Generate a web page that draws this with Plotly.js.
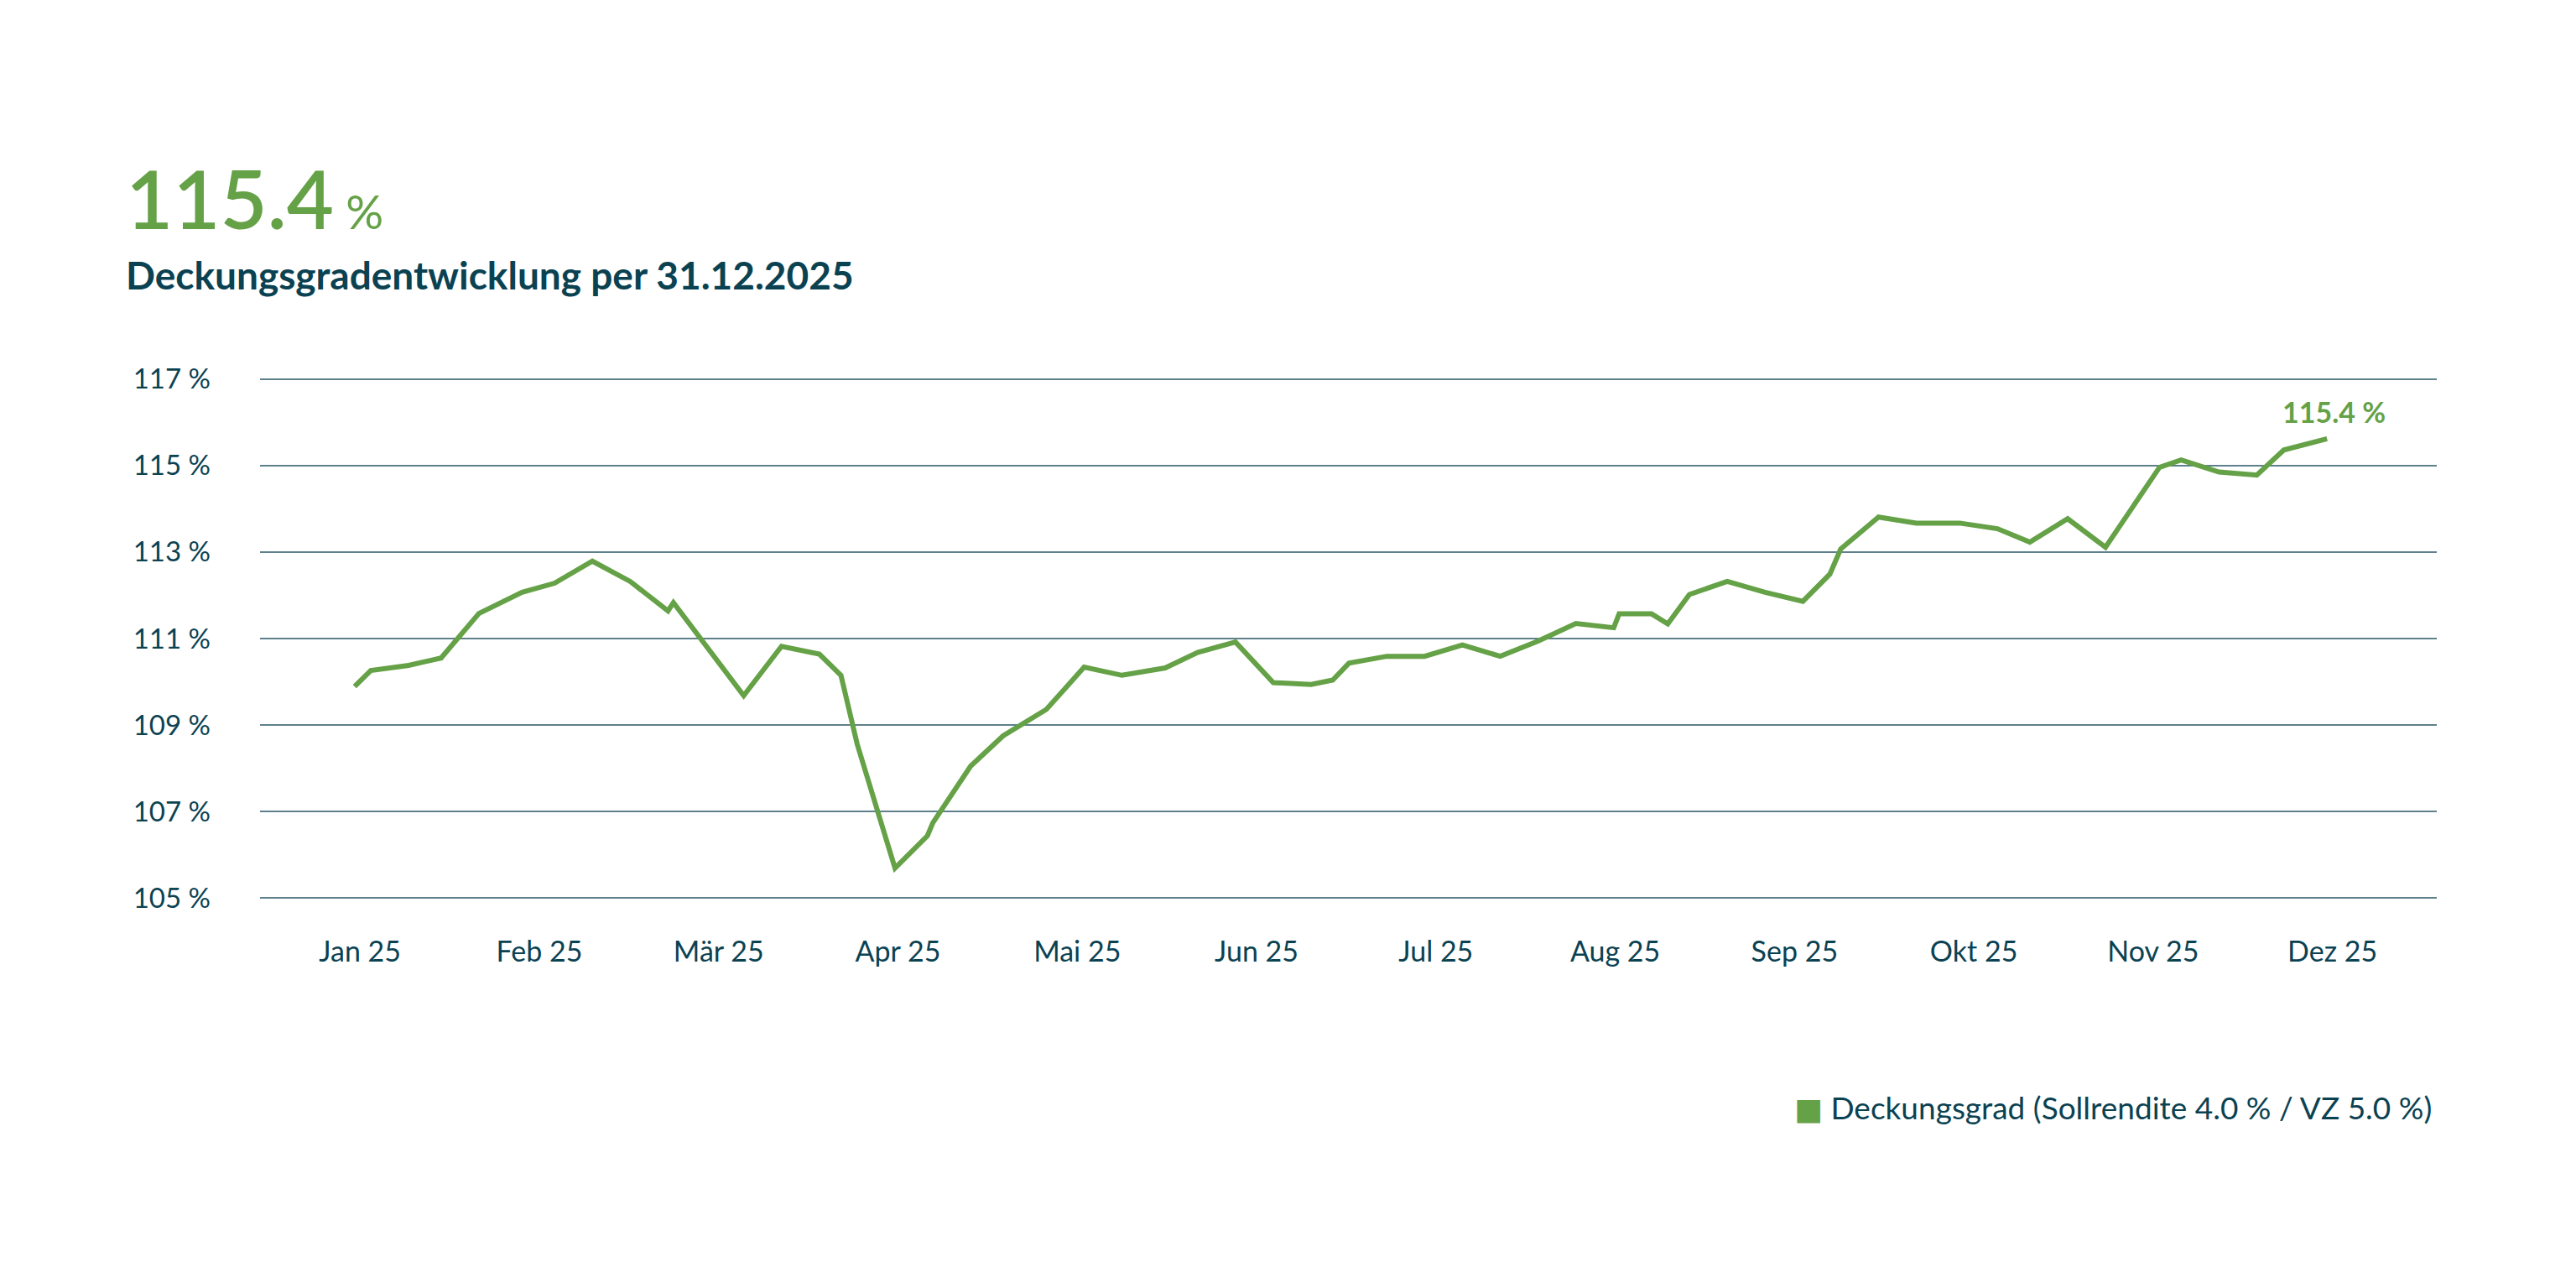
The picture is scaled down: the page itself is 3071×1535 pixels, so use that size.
<!DOCTYPE html>
<html>
<head>
<meta charset="utf-8">
<script src="https://cdn.plot.ly/plotly-3.0.1.min.js"></script>
<style>
  html, body { margin: 0; padding: 0; background: #ffffff; }
  #chart { width: 3071px; height: 1535px; }
</style>
</head>
<body>
<div id="chart"></div>
<script>
const GREEN = "#65a146";
const TEAL = "#0b4252";
const GRID = "#5e808c";
const FONT = "Lato, 'Open Sans', Arial, sans-serif";

// Deckungsgrad per Stichtag
const dates = [
  "2024-12-31", "2025-01-03", "2025-01-10", "2025-01-16", "2025-01-23", "2025-01-31",
  "2025-02-06", "2025-02-13", "2025-02-20", "2025-02-27", "2025-02-28",
  "2025-03-13", "2025-03-20", "2025-03-27", "2025-03-31",
  "2025-04-03", "2025-04-10", "2025-04-16", "2025-04-17", "2025-04-24", "2025-04-30",
  "2025-05-08", "2025-05-15", "2025-05-22", "2025-05-30",
  "2025-06-05", "2025-06-12", "2025-06-19", "2025-06-26", "2025-06-30",
  "2025-07-03", "2025-07-10", "2025-07-17", "2025-07-24", "2025-07-31",
  "2025-08-07", "2025-08-14", "2025-08-21", "2025-08-22", "2025-08-28", "2025-08-31",
  "2025-09-04", "2025-09-11", "2025-09-18", "2025-09-25", "2025-09-30",
  "2025-10-02", "2025-10-09", "2025-10-16", "2025-10-24", "2025-10-31",
  "2025-11-06", "2025-11-13", "2025-11-20", "2025-11-30",
  "2025-12-04", "2025-12-11", "2025-12-18", "2025-12-23", "2025-12-31",
];

const coverage = [
  109.89, 110.26, 110.38, 110.55, 111.58, 112.07,
  112.28, 112.79, 112.32, 111.64, 111.83,
  109.68, 110.82, 110.64, 110.15,
  108.56, 105.69, 106.44, 106.74, 108.05, 108.75,
  109.36, 110.34, 110.15, 110.32,
  110.68, 110.92, 109.98, 109.94, 110.04,
  110.43, 110.59, 110.59, 110.85, 110.59,
  110.94, 111.35, 111.25, 111.57, 111.57, 111.34,
  112.02, 112.32, 112.07, 111.86, 112.49,
  113.07, 113.81, 113.67, 113.67, 113.54,
  113.23, 113.77, 113.11, 114.96,
  115.13, 114.85, 114.78, 115.36, 115.62,
];

const monthLabels = [
  "Jan 25", "Feb 25", "Mär 25", "Apr 25", "Mai 25", "Jun 25",
  "Jul 25", "Aug 25", "Sep 25", "Okt 25", "Nov 25", "Dez 25",
];

const yTicks = [105, 107, 109, 111, 113, 115, 117];

const latestValue = 115.4;
const seriesName = "Deckungsgrad (Sollrendite 4.0 % / VZ 5.0 %)";
const subtitle = "Deckungsgradentwicklung per 31.12.2025";

const DAY = 86400000;

function toDateString(ms) {
  return new Date(ms).toISOString().slice(0, 19).replace("T", " ");
}

// month labels are spread evenly over the year, as in the original
function monthTickVals() {
  const t0 = Date.UTC(2025, 0, 1);
  const t1 = Date.UTC(2026, 0, 1);
  const step = (t1 - t0) / (monthLabels.length - 1);
  return monthLabels.map((_, i) => toDateString(t0 + i * step));
}

function pct(v) {
  return v.toFixed(1) + " %";
}

const first = Date.parse(dates[0] + "T00:00:00Z");
const last = Date.parse(dates[dates.length - 1] + "T00:00:00Z");

Plotly.newPlot(
  "chart",
  [
    {
      type: "scatter",
      mode: "lines",
      name: seriesName,
      x: dates,
      y: coverage,
      line: { color: GREEN, width: 6 },
      hoverinfo: "skip",
    },
  ],
  {
    width: 3071,
    height: 1535,
    margin: { l: 310, r: 166, t: 426, b: 439 },
    paper_bgcolor: "#ffffff",
    plot_bgcolor: "#ffffff",
    font: { family: FONT, color: TEAL, size: 33 },
    showlegend: false,
    xaxis: {
      type: "date",
      range: [toDateString(first - 17.5 * DAY), toDateString(last + 20.3 * DAY)],
      tickmode: "array",
      tickvals: monthTickVals(),
      ticktext: monthLabels,
      showgrid: false,
      zeroline: false,
      showline: false,
      ticks: "",
      ticklabelstandoff: 15,
      tickfont: { family: FONT, size: 34, color: TEAL },
    },
    yaxis: {
      range: [104.5, 117.5],
      tickmode: "array",
      tickvals: yTicks,
      ticktext: yTicks.map((v) => v + " %"),
      gridcolor: GRID,
      gridwidth: 2,
      zeroline: false,
      showline: false,
      ticks: "",
      ticklabelstandoff: 58,
      tickfont: { family: FONT, size: 33, color: TEAL },
    },
    annotations: [
      {
        xref: "paper",
        yref: "paper",
        x: -0.0624,
        y: 1.2836,
        xanchor: "left",
        yanchor: "middle",
        showarrow: false,
        align: "left",
        text: latestValue.toFixed(1) + "<span style='font-size:56px;font-weight:400'> %</span>",
        font: { family: FONT, size: 97, color: GREEN, weight: 600 },
      },
      {
        xref: "paper",
        yref: "paper",
        x: -0.0624,
        y: 1.1475,
        xanchor: "left",
        yanchor: "middle",
        showarrow: false,
        text: subtitle,
        font: { family: FONT, size: 46, color: TEAL, weight: 700 },
      },
      {
        xref: "x",
        yref: "y",
        x: dates[dates.length - 1],
        y: coverage[coverage.length - 1],
        xshift: 8,
        yshift: 32,
        showarrow: false,
        text: pct(latestValue),
        font: { family: FONT, size: 34, color: GREEN, weight: 700 },
      },
      {
        // legend entry with a square swatch
        xref: "paper",
        yref: "paper",
        x: 0.9985,
        y: -0.334,
        xanchor: "right",
        yanchor: "middle",
        showarrow: false,
        text: "<span style='color:" + GREEN + ";font-size:36px;font-family:DejaVu Sans'>■</span>\u00a0" + seriesName,
        font: { family: FONT, size: 37, color: TEAL },
      },
    ],
  },
  { displayModeBar: false, staticPlot: true }
);
</script>
</body>
</html>
